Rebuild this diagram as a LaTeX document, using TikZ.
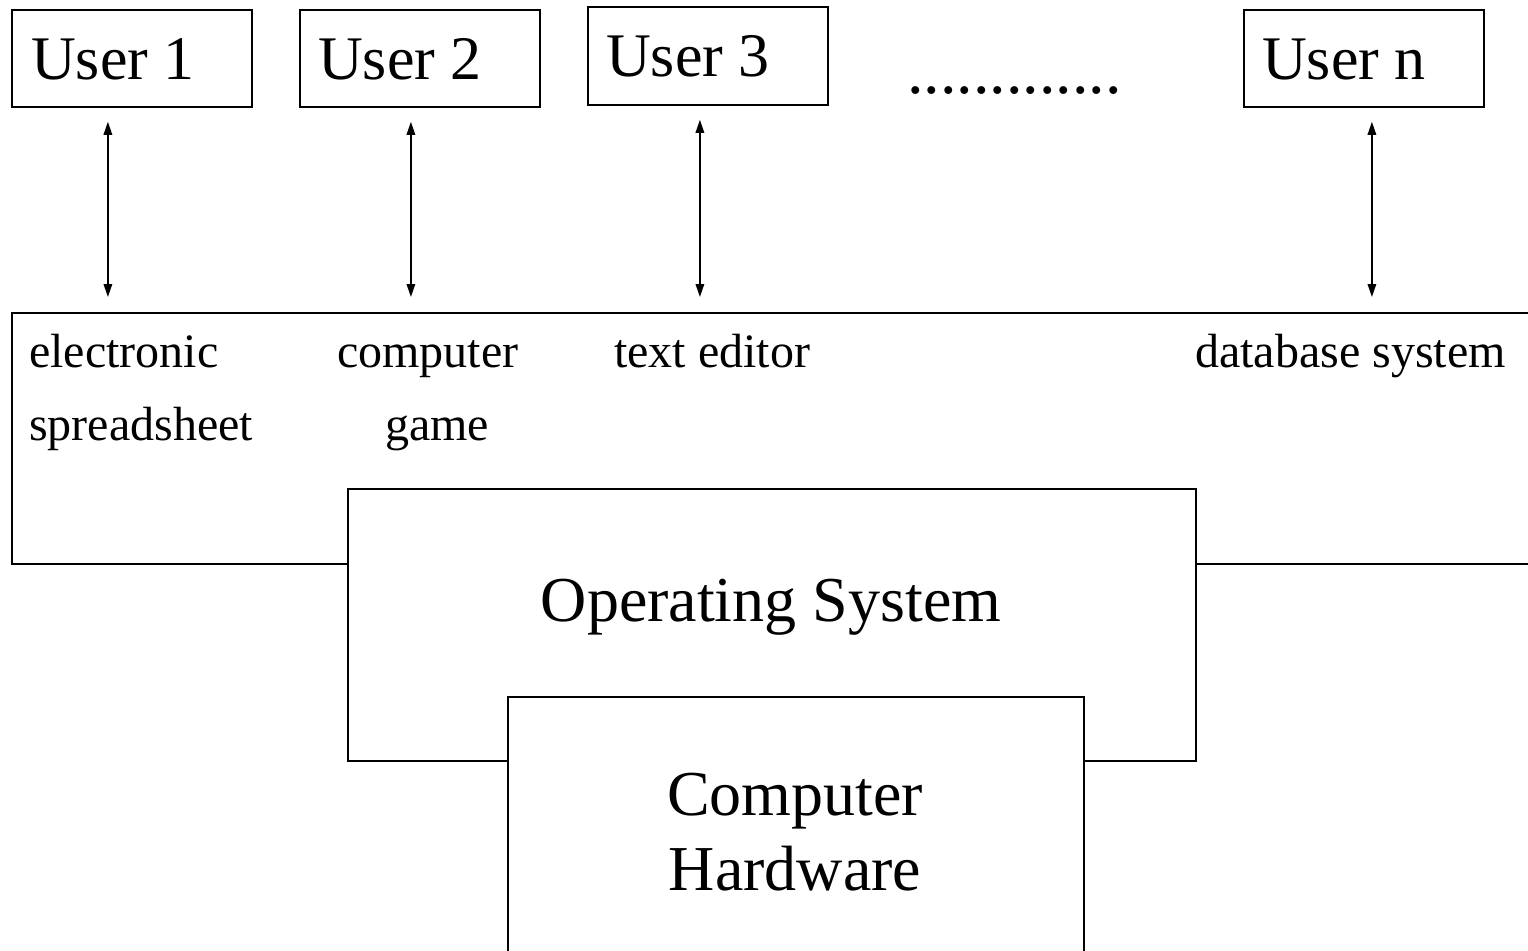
\documentclass[tikz,border=0pt]{standalone}
\usepackage{fontspec}
\setmainfont{Liberation Serif}
\usetikzlibrary{arrows.meta}
\begin{document}
\begin{tikzpicture}[x=1pt,y=-1pt,
  box/.style={draw,line width=1.8pt,anchor=north west,inner sep=0pt},
  userbox/.style={box,minimum width=240pt,minimum height=97pt},
  usertext/.style={font=\fontsize{62}{74}\selectfont,anchor=base west,inner sep=0pt},
  apptext/.style={font=\fontsize{48}{56}\selectfont,anchor=base west,inner sep=0pt},
  bigtext/.style={font=\fontsize{64}{75}\selectfont,inner sep=0pt,align=center},
  link/.style={line width=1.5pt,
    {Triangle[length=13pt,width=8.5pt]}-{Triangle[length=13pt,width=8.5pt]},
    shorten <=14pt,shorten >=15pt}]
\useasboundingbox (0,0) rectangle (1528,950);

% users
\node[userbox] (u1) at (11,9) {};
\node[usertext] (u1t) at (31,79) {User 1};
\node[userbox] (u2) at (299,9) {};
\node[usertext] (u2t) at (318,79) {User 2};
\node[userbox,minimum height=98pt] (u3) at (587,6) {};
\node[usertext] (u3t) at (606,76) {User 3};
\node[usertext,font=\fontsize{66}{74}\selectfont] (dots) at (907,93) {.............};
\node[userbox] (un) at (1243,9) {};
\node[usertext] (unt) at (1262,79) {User n};

% application layer (runs off the right edge)
\node[box,minimum width=1560pt,minimum height=251pt] (app) at (11,312) {};
\node[apptext] (a1) at (29,367) {electronic};
\node[apptext] (a1b) at (29,440) {spreadsheet};
\node[apptext] (a2) at (337,367) {computer};
\node[apptext] (a2b) at (385,440) {game};
\node[apptext] (a3) at (614,367) {text editor};
\node[apptext] (an) at (1195,367) {database system};

% user <-> application links
\draw[link] ([xshift=-24pt]u1.south) -- ([xshift=-24pt]u1.south |- app.north);
\draw[link] ([xshift=-9pt]u2.south) -- ([xshift=-9pt]u2.south |- app.north);
\draw[link] ([xshift=-8pt]u3.south) -- ([xshift=-8pt]u3.south |- app.north);
\draw[link] ([xshift=8pt]un.south) -- ([xshift=8pt]un.south |- app.north);

% operating system and hardware
\node[box,fill=white,minimum width=848pt,minimum height=272pt] (os) at (347,488) {};
\node[bigtext,anchor=base] (ost) at (771,621) {Operating System};
\node[box,fill=white,minimum width=576pt,minimum height=280pt] (hw) at (507,696) {};
\node[bigtext,anchor=base] (hwt) at (795,890) {Computer\\Hardware};
\end{tikzpicture}
\end{document}
